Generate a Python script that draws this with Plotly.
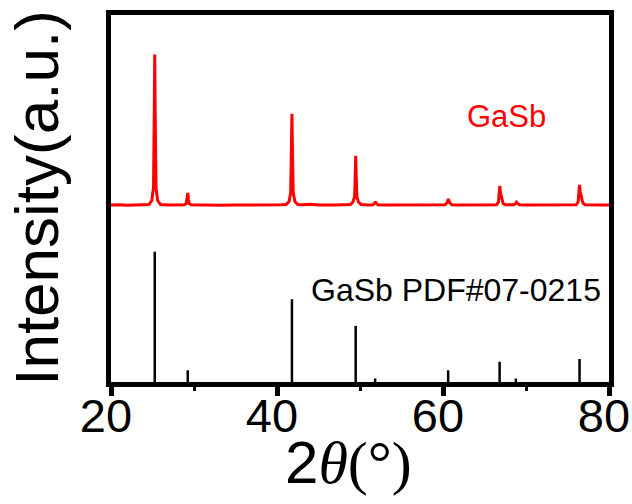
import plotly.graph_objects as go

# Measured XRD pattern (2theta in degrees, intensity in arbitrary units)
xrd_2theta = [
    20.0, 21.0, 22.0, 23.0, 24.0,
    24.57, 24.92, 25.12, 25.21, 25.27, 25.33, 25.42, 25.62, 25.97,
    27.0, 28.0,
    28.85, 29.07, 29.17, 29.25, 29.33, 29.43, 29.65,
    31.0, 33.0, 35.0, 37.0, 39.0, 40.5,
    41.10, 41.45, 41.65, 41.74, 41.80, 41.86, 41.95, 42.15, 42.50,
    43.0, 44.0, 45.0, 46.0, 47.0, 48.0,
    48.85, 49.15, 49.35, 49.43, 49.48, 49.54, 49.62, 49.80, 50.15,
    51.0,
    51.55, 51.75, 51.85, 51.95, 52.15,
    53.0, 55.0, 57.0, 59.0,
    60.25, 60.50, 60.65, 60.80, 61.05,
    62.0, 64.0, 65.5,
    66.45, 66.68, 66.78, 66.85, 66.92, 67.00, 67.08, 67.25, 67.50,
    68.0,
    68.55, 68.75, 68.85, 68.98, 69.20,
    70.0, 72.0, 74.0, 75.3,
    76.05, 76.28, 76.38, 76.45, 76.52, 76.62, 76.70, 76.85, 77.10,
    78.0, 79.0, 80.0,
]
xrd_intensity = [
    176.5, 176.8, 176.3, 176.6, 176.4,
    177.0, 181.0, 194.0, 266.0, 326.5, 266.0, 194.0, 181.0, 177.0,
    176.4, 176.7,
    176.8, 178.0, 182.0, 188.5, 182.0, 178.0, 176.8,
    176.5, 176.3, 176.6, 176.4, 176.5, 176.7,
    177.0, 180.0, 189.0, 232.0, 267.5, 232.0, 189.0, 180.0, 177.0,
    176.8, 177.2, 176.6, 176.9, 176.5, 176.7,
    177.0, 179.5, 185.0, 207.0, 225.5, 207.0, 185.0, 179.5, 177.0,
    176.5,
    176.7, 178.2, 180.0, 178.2, 176.7,
    176.4, 176.6, 176.3, 176.5,
    176.8, 179.0, 182.5, 179.0, 176.8,
    176.4, 176.6, 176.4,
    176.8, 179.5, 187.0, 195.5, 188.5, 185.5, 182.0, 178.0, 176.8,
    176.5,
    176.7, 178.0, 179.3, 178.0, 176.7,
    176.4, 176.6, 176.3, 176.5,
    176.8, 179.5, 188.0, 196.5, 190.0, 187.0, 182.5, 178.5, 176.8,
    176.4, 176.6, 176.5,
]

# Standard card GaSb PDF#07-0215: positions and stick heights
pdf_2theta = [25.27, 29.25, 41.80, 49.48, 51.82, 60.62, 66.82, 68.78, 76.45]
pdf_intensity = [130.0, 11.7, 82.6, 56.0, 3.5, 11.7, 20.2, 3.5, 22.9]

x_ticks = [20, 40, 60, 80]

sx, sy = [], []
for p, h in zip(pdf_2theta, pdf_intensity):
    sx += [p, p, None]
    sy += [0, h, None]

font = "Liberation Sans, Arial, sans-serif"
serif = "Liberation Serif, Times New Roman, serif"

fig = go.Figure()
fig.add_trace(go.Scatter(x=sx, y=sy, mode="lines",
                         line=dict(color="black", width=2.5),
                         showlegend=False, hoverinfo="skip"))
fig.add_trace(go.Scatter(x=xrd_2theta, y=xrd_intensity, mode="lines",
                         line=dict(color="#ff0000", width=3),
                         showlegend=False))

fig.add_annotation(x=67.67, y=264.5, xref="x", yref="y", text="GaSb",
                   showarrow=False, font=dict(family=font, size=31, color="#ff0000"),
                   xanchor="center", yanchor="middle")
fig.add_annotation(x=61.53, y=92.0, xref="x", yref="y", text="GaSb PDF#07-0215",
                   showarrow=False, font=dict(family=font, size=32, color="black"),
                   xanchor="center", yanchor="middle")

# axis titles as annotations for precise placement
fig.add_annotation(x=-0.150, y=0.5027, xref="paper", yref="paper",
                   text="Intensity(a.u.)", textangle=-90, showarrow=False,
                   font=dict(family=font, size=62, color="black"),
                   xanchor="center", yanchor="middle")
fig.add_annotation(x=0.476, y=-0.2207, xref="paper", yref="paper",
                   text=f"2<span style='font-family:{serif}'><i>θ</i>(°)</span>",
                   showarrow=False, font=dict(family=font, size=60, color="black"),
                   xanchor="center", yanchor="middle")

fig.update_layout(
    width=632, height=504,
    margin=dict(l=111, r=23, t=15, b=122, autoexpand=False),
    paper_bgcolor="white", plot_bgcolor="white",
    font=dict(family=font, color="black"),
    showlegend=False,
)
fig.update_xaxes(
    range=[20, 80], tickvals=x_ticks, ticktext=[str(t) for t in x_ticks],
    showgrid=False, zeroline=False, automargin=False,
    showline=True, linecolor="black", linewidth=4.5, mirror=True,
    ticks="outside", ticklen=9, tickwidth=4.5, tickcolor="black",
    tickfont=dict(family=font, size=47, color="black"),
    ticklabeloverflow="allow", ticklabelstandoff=-20, ticklabelshift=-5,
    minor=dict(tickvals=[30, 50, 70], ticks="outside", ticklen=4, tickwidth=3, tickcolor="black"),
)
fig.update_yaxes(
    range=[0, 366], showticklabels=False, ticks="", automargin=False,
    showgrid=False, zeroline=False,
    showline=True, linecolor="black", linewidth=4.5, mirror=True,
)

fig.write_html("out.html")
